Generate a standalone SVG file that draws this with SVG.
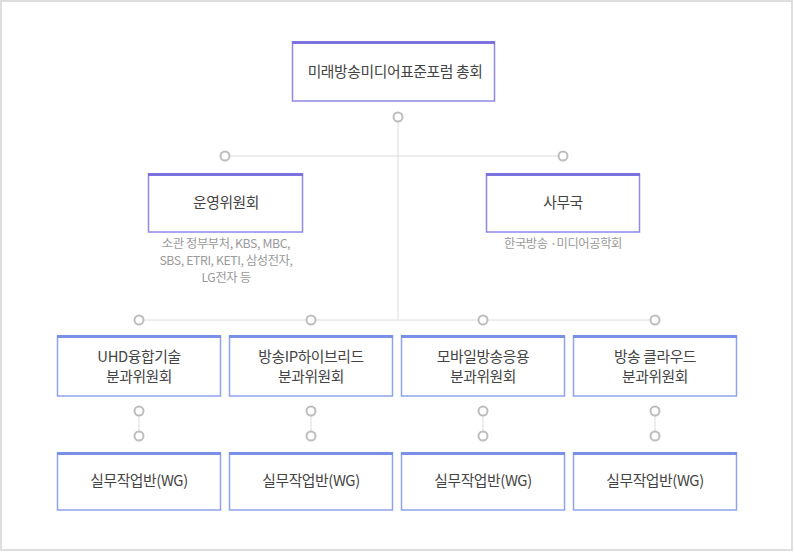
<svg xmlns="http://www.w3.org/2000/svg" width="794" height="552" viewBox="0 0 794 552">
<style>
.frame{fill:#fff;stroke:#dedede;stroke-width:2}
.box{fill:#fff;stroke:#8f89e8;stroke-width:1.5}
.boxb{fill:#fff;stroke:#8fa3ec;stroke-width:1.5}
.bar{fill:#7b72e0}
.barb{fill:#7891e6}
.t{font-family:"Noto Sans CJK KR","Noto Sans",sans-serif;font-size:14.8px;fill:#444;text-anchor:middle;letter-spacing:-0.4px}
.s{font-family:"Noto Sans CJK KR","Noto Sans",sans-serif;font-size:12.3px;fill:#9a9a9a;text-anchor:middle;letter-spacing:-0.4px}
.ln{stroke:#dcdcdc;stroke-width:1;fill:none}
.dot{fill:#fff;stroke:#bdbdbd;stroke-width:2}
</style>
<rect class="frame" x="1" y="1" width="791" height="549"/>
<g id="connectors">
<line class="ln" x1="398" y1="117" x2="398" y2="320"/>
<line class="ln" x1="225" y1="156" x2="563" y2="156"/>
<line class="ln" x1="139" y1="320" x2="655" y2="320"/>
<line class="ln" x1="139" y1="411" x2="139" y2="436"/>
<line class="ln" x1="311" y1="411" x2="311" y2="436"/>
<line class="ln" x1="483" y1="411" x2="483" y2="436"/>
<line class="ln" x1="655" y1="411" x2="655" y2="436"/>
<circle class="dot" cx="398" cy="117" r="4.5"/>
<circle class="dot" cx="225" cy="156" r="4.5"/>
<circle class="dot" cx="563" cy="156" r="4.5"/>
<circle class="dot" cx="139" cy="320" r="4.5"/>
<circle class="dot" cx="311" cy="320" r="4.5"/>
<circle class="dot" cx="483" cy="320" r="4.5"/>
<circle class="dot" cx="655" cy="320" r="4.5"/>
<circle class="dot" cx="139" cy="411" r="4.5"/>
<circle class="dot" cx="311" cy="411" r="4.5"/>
<circle class="dot" cx="483" cy="411" r="4.5"/>
<circle class="dot" cx="655" cy="411" r="4.5"/>
<circle class="dot" cx="139" cy="436" r="4.5"/>
<circle class="dot" cx="311" cy="436" r="4.5"/>
<circle class="dot" cx="483" cy="436" r="4.5"/>
<circle class="dot" cx="655" cy="436" r="4.5"/>
</g>
<g id="general">
<rect class="box" x="292.5" y="42" width="202" height="59"/>
<rect class="bar" x="292" y="41" width="203" height="3"/>
<text class="t" x="395" y="77">미래방송미디어표준포럼 총회</text>
</g>
<g id="steering">
<rect class="box" x="148.5" y="174" width="154" height="58"/>
<rect class="bar" x="148" y="173" width="155" height="3"/>
<text class="t" x="226" y="208">운영위원회</text>
<text class="s" x="226" y="248">소관 정부부처, KBS, MBC,</text>
<text class="s" x="226" y="265">SBS, ETRI, KETI, 삼성전자,</text>
<text class="s" x="226" y="282">LG전자 등</text>
</g>
<g id="secretariat">
<rect class="box" x="486.5" y="174" width="153" height="58"/>
<rect class="bar" x="486" y="173" width="154" height="3"/>
<text class="t" x="563" y="208">사무국</text>
<text class="s" x="563" y="248">한국방송 ·미디어공학회</text>
</g>
<g id="sc1">
<rect class="boxb" x="57.5" y="336" width="163" height="60"/>
<rect class="barb" x="57" y="335" width="164" height="3"/>
<text class="t" x="139" y="362">UHD융합기술</text>
<text class="t" x="139" y="382">분과위원회</text>
</g>
<g id="sc2">
<rect class="boxb" x="229.5" y="336" width="163" height="60"/>
<rect class="barb" x="229" y="335" width="164" height="3"/>
<text class="t" x="311" y="362">방송IP하이브리드</text>
<text class="t" x="311" y="382">분과위원회</text>
</g>
<g id="sc3">
<rect class="boxb" x="401.5" y="336" width="163" height="60"/>
<rect class="barb" x="401" y="335" width="164" height="3"/>
<text class="t" x="483" y="362">모바일방송응용</text>
<text class="t" x="483" y="382">분과위원회</text>
</g>
<g id="sc4">
<rect class="boxb" x="573.5" y="336" width="163" height="60"/>
<rect class="barb" x="573" y="335" width="164" height="3"/>
<text class="t" x="655" y="362">방송 클라우드</text>
<text class="t" x="655" y="382">분과위원회</text>
</g>
<g id="wg1">
<rect class="boxb" x="57.5" y="453" width="163" height="57"/>
<rect class="barb" x="57" y="452" width="164" height="3"/>
<text class="t" x="139" y="486">실무작업반(WG)</text>
</g>
<g id="wg2">
<rect class="boxb" x="229.5" y="453" width="163" height="57"/>
<rect class="barb" x="229" y="452" width="164" height="3"/>
<text class="t" x="311" y="486">실무작업반(WG)</text>
</g>
<g id="wg3">
<rect class="boxb" x="401.5" y="453" width="163" height="57"/>
<rect class="barb" x="401" y="452" width="164" height="3"/>
<text class="t" x="483" y="486">실무작업반(WG)</text>
</g>
<g id="wg4">
<rect class="boxb" x="573.5" y="453" width="163" height="57"/>
<rect class="barb" x="573" y="452" width="164" height="3"/>
<text class="t" x="655" y="486">실무작업반(WG)</text>
</g>
</svg>
